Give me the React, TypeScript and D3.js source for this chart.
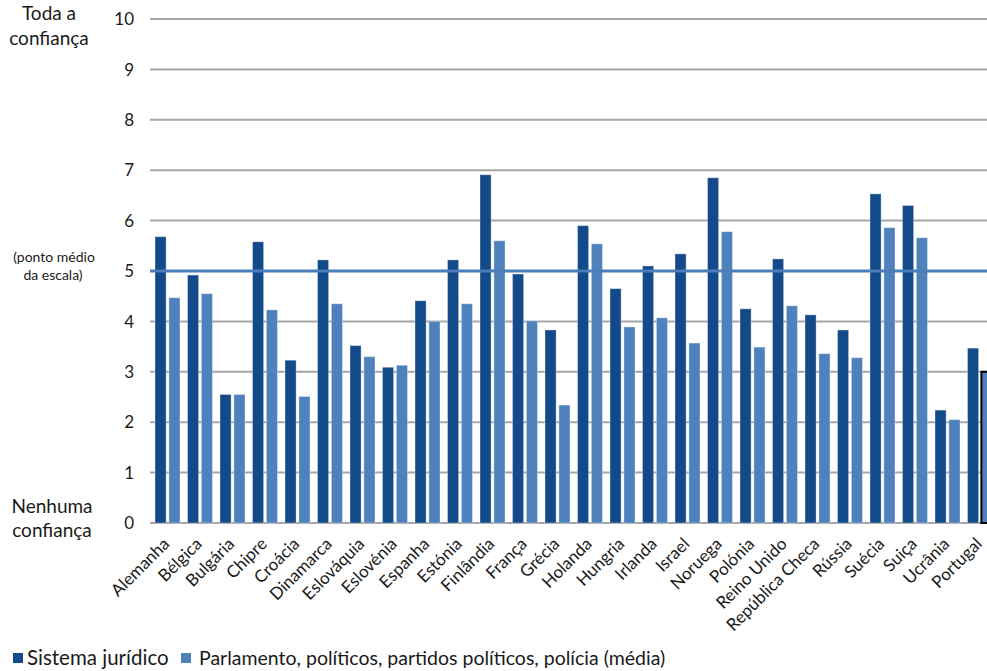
import React from "react";
import * as d3 from "d3";

const categories = [
  "Alemanha", "Bélgica", "Bulgária", "Chipre", "Croácia", "Dinamarca", "Eslováquia",
  "Eslovénia", "Espanha", "Estónia", "Finlândia", "França", "Grécia", "Holanda",
  "Hungria", "Irlanda", "Israel", "Noruega", "Polónia", "Reino Unido",
  "República Checa", "Rússia", "Suécia", "Suiça", "Ucrânia", "Portugal",
];
const sistemaJuridico = [
  5.68, 4.92, 2.55, 5.58, 3.23, 5.22, 3.52, 3.09, 4.41, 5.22, 6.91, 4.94, 3.83,
  5.90, 4.65, 5.10, 5.34, 6.85, 4.25, 5.24, 4.13, 3.83, 6.53, 6.30, 2.24, 3.47,
];
const parlamentoMedia = [
  4.47, 4.55, 2.55, 4.23, 2.51, 4.35, 3.30, 3.13, 4.00, 4.35, 5.60, 4.01, 2.34,
  5.54, 3.89, 4.07, 3.57, 5.78, 3.49, 4.31, 3.36, 3.28, 5.86, 5.66, 2.05, 3.00,
];
const yTicks = [0, 1, 2, 3, 4, 5, 6, 7, 8, 9, 10];
const seriesNames = ["Sistema jurídico", "Parlamento, políticos, partidos políticos, polícia (média)"];
const midpoint = 5;

const W = 987;
const H = 671;
const FONT = "Lato, 'Open Sans', sans-serif";
const DARK = "#134a89";
const LIGHT = "#4f81bd";

export default function App() {
  const x0 = 151.25;
  const step = 32.5;
  const x = d3.scaleBand<string>().domain(categories).range([x0, x0 + step * categories.length]).padding(0);
  const xInner = d3.scaleBand<string>().domain(["a", "b"]).range([3.75, step - 3.75]).paddingInner(0.2);
  const y = d3.scaleLinear().domain([0, 10]).range([523, 19]);
  const gridRight = x0 + step * categories.length;

  return (
    <svg width={W} height={H} style={{ position: "absolute", left: 0, top: 0, background: "#fff" }} fontFamily={FONT}>
      {yTicks.map((t) => (
        <line key={t} x1={150} x2={gridRight} y1={y(t)} y2={y(t)} stroke="#a6a6a6" strokeWidth={2} />
      ))}
      {yTicks.map((t) => (
        <text key={"t" + t} x={134} y={y(t)} dy="0.36em" textAnchor="end" fontSize={17} fill="#1a1a1a">{t}</text>
      ))}
      {categories.map((c, i) => (
        <g key={c} transform={`translate(${x(c)},0)`}>
          <rect x={xInner("a")} width={xInner.bandwidth()} y={y(sistemaJuridico[i])} height={y(0) - y(sistemaJuridico[i])} fill={DARK} stroke="rgba(255,255,255,0.35)" strokeWidth={1} />
          <rect x={xInner("b")} width={xInner.bandwidth()} y={y(parlamentoMedia[i])} height={y(0) - y(parlamentoMedia[i])} fill={LIGHT}
            stroke={c === "Portugal" ? "#000" : "rgba(255,255,255,0.35)"} strokeWidth={c === "Portugal" ? 2 : 1} />
        </g>
      ))}
      <line x1={150} x2={gridRight} y1={y(midpoint)} y2={y(midpoint)} stroke="#4a7ebb" strokeWidth={3.2} />
      {categories.map((c) => {
        const cx = (x(c) as number) + x.bandwidth() / 2;
        return (
          <text key={"l" + c} transform={`translate(${cx + 3},${545}) rotate(-45)`} textAnchor="end" fontSize={17} fill="#1a1a1a">{c}</text>
        );
      })}
      <g fontSize={19} fill="#1a1a1a" textAnchor="middle">
        <text x={49} y={20}>Toda a</text>
        <text x={49} y={45}>confiança</text>
        <text x={52} y={513}>Nenhuma</text>
        <text x={52} y={537}>confiança</text>
      </g>
      <g fontSize={14} fill="#1a1a1a" textAnchor="middle">
        <text x={54} y={262}>(ponto médio</text>
        <text x={53} y={280}>da escala)</text>
      </g>
      <g fill="#1a1a1a">
        <rect x={13} y={653} width={10} height={10} fill={DARK} />
        <text x={27} y={665} fontSize={20.5}>{seriesNames[0]}</text>
        <rect x={181} y={653} width={10} height={10} fill={LIGHT} />
        <text x={199} y={665} fontSize={19.5}>{seriesNames[1]}</text>
      </g>
    </svg>
  );
}
